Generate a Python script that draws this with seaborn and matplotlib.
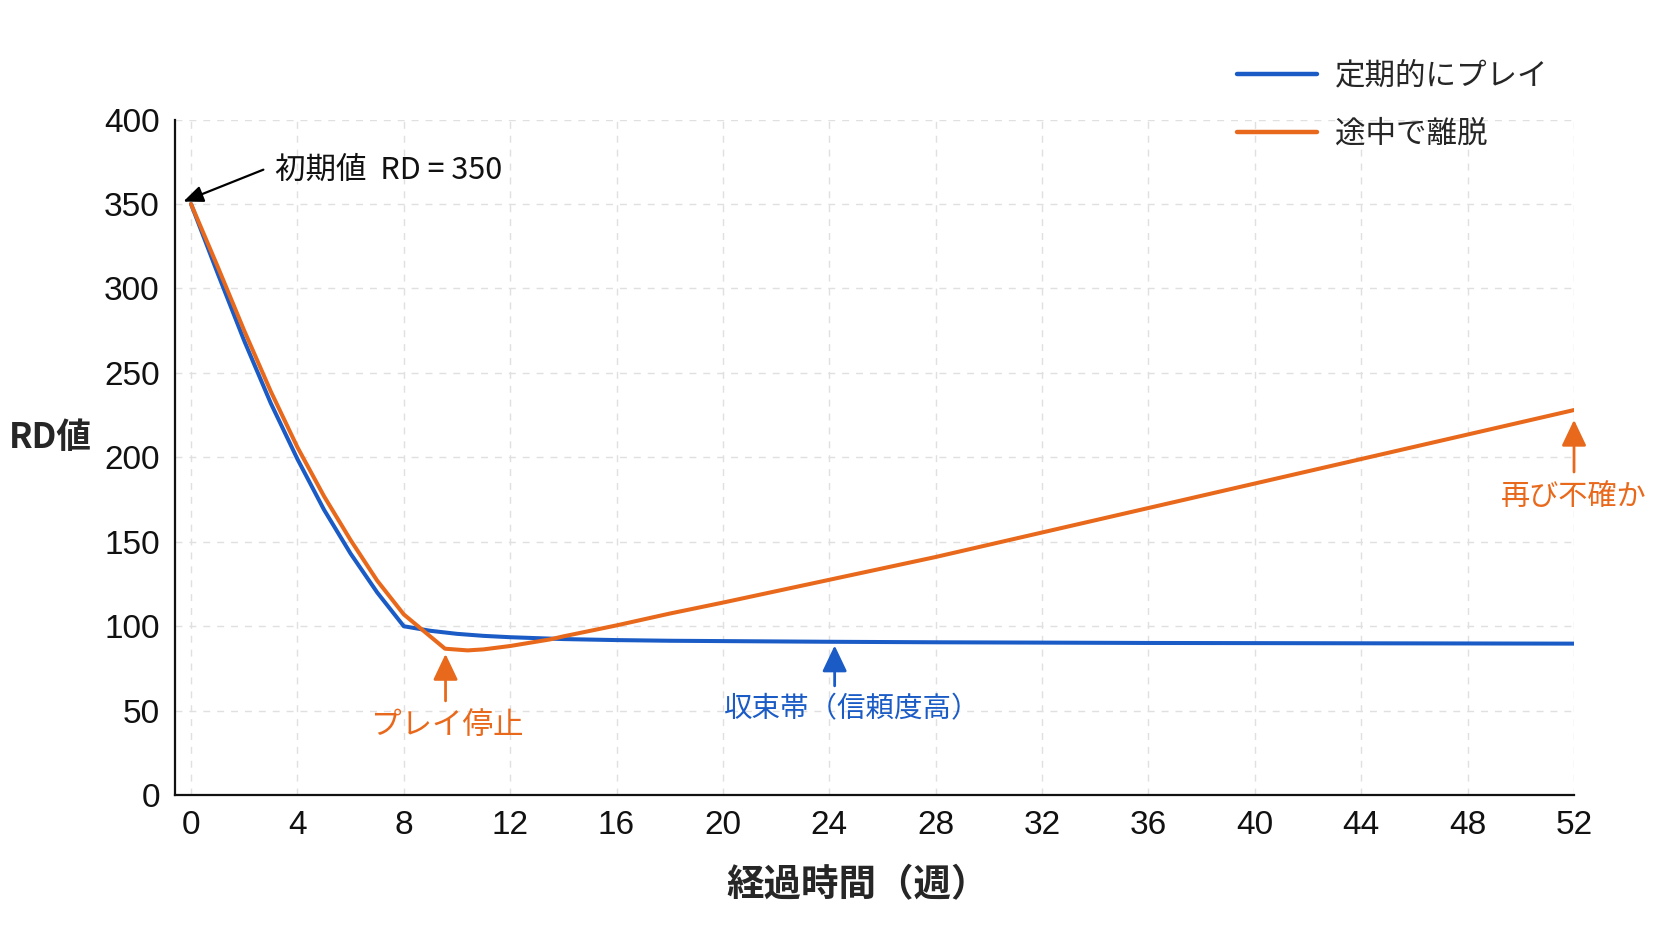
import pandas as pd
import seaborn as sns
import matplotlib.pyplot as plt

# 定期的にプレイ
regular_weeks = [0, 1, 2, 3, 4, 5, 6, 7, 8, 9, 10, 11, 12, 14, 16, 18, 20, 24, 28, 32, 36, 40, 44, 48, 52]
regular_rd = [350, 309, 269, 232, 199, 169, 143, 120, 100, 97.3, 95.5, 94.3, 93.5, 92.4, 91.8, 91.4,
              91.2, 90.8, 90.5, 90.3, 90.1, 90, 89.9, 89.8, 89.7]

# 途中で離脱
dropout_weeks = [0, 1, 2, 3, 4, 5, 6, 7, 8, 9.55, 10.4, 11, 12, 13.5, 14, 16, 18, 20, 24, 28, 32, 36, 40, 44, 48, 52]
dropout_rd = [350, 313, 275, 239, 206, 177, 151, 127, 107, 86.7, 85.7, 86.3, 88.3, 92.2, 94, 100.5, 107.5,
              114, 127.5, 141, 155.5, 170, 184.5, 199, 213.5, 228]

labels = ['定期的にプレイ', '途中で離脱']
colors = ['#1a5bc6', '#e8691c']
x_ticks = list(range(0, 53, 4))
y_ticks = list(range(0, 401, 50))

df = pd.concat([
    pd.DataFrame({'week': regular_weeks, 'rd': regular_rd, 'series': labels[0]}),
    pd.DataFrame({'week': dropout_weeks, 'rd': dropout_rd, 'series': labels[1]}),
])

sns.set_style('white')
plt.rcParams['font.family'] = ['Noto Sans CJK JP', 'DejaVu Sans']

fig = plt.figure(figsize=(16.72, 9.41), dpi=100)
ax = fig.add_axes([0.1047, 0.155, 0.8367, 0.718])

sns.lineplot(data=df, x='week', y='rd', hue='series', palette=colors,
             linewidth=2.9, ax=ax, estimator=None, sort=False)

ax.set_xlim(-0.6, 52)
ax.set_ylim(0, 400)
ax.set_xticks(x_ticks)
ax.set_yticks(y_ticks)
ax.tick_params(axis='both', labelsize=24, length=8, width=1.3, direction='out', colors='black', pad=3)
for lab in ax.get_xticklabels() + ax.get_yticklabels():
    lab.set_family(['Liberation Sans', 'DejaVu Sans'])
    lab.set_color('#111111')

ax.grid(True, linestyle=(0, (5, 5)), color='#e0e0e0', linewidth=1)
sns.despine(ax=ax)
for s in ['left', 'bottom']:
    ax.spines[s].set_color('#111111')
    ax.spines[s].set_linewidth(1.6)

ax.set_xlabel('')
ax.set_ylabel('')
fig.text(0.513, 0.06, '経過時間（週）', fontsize=27, fontweight='bold', ha='center', va='center')
fig.text(0.03, 0.535, 'RD値', fontsize=25, fontweight='bold', ha='center', va='center')

handles, _ = ax.get_legend_handles_labels()
leg = ax.legend(handles, labels, loc='upper left', bbox_to_anchor=(0.7236, 0.965),
                bbox_transform=fig.transFigure, frameon=False, fontsize=22,
                handlelength=2.6, handletextpad=0.6, labelspacing=0.9)
for line in leg.get_lines():
    line.set_linewidth(3.2)

# 注記
big_head = '-|>,head_length=0.8,head_width=0.38'
ax.annotate('', xy=(-0.29, 351.4), xytext=(2.72, 370.3),
            arrowprops=dict(arrowstyle='-|>,head_length=0.6,head_width=0.25', color='black',
                            lw=1.6, mutation_scale=20, shrinkA=0, shrinkB=0))
ax.text(3.16, 370, '初期値  RD = 350', fontsize=22, color='#111111', va='center', ha='left')

ax.annotate('', xy=(9.57, 83.6), xytext=(9.57, 55.8),
            arrowprops=dict(arrowstyle=big_head, color=colors[1], lw=2, mutation_scale=20,
                            shrinkA=0, shrinkB=0))
ax.text(9.65, 41.4, 'プレイ停止', fontsize=22, color=colors[1], va='center', ha='center')

ax.annotate('', xy=(24.2, 88.6), xytext=(24.2, 64.7),
            arrowprops=dict(arrowstyle=big_head, color=colors[0], lw=2, mutation_scale=20,
                            shrinkA=0, shrinkB=0))
ax.text(24.85, 50.8, '収束帯（信頼度高）', fontsize=20.5, color=colors[0], va='center', ha='center')

ax.annotate('', xy=(52, 222.2), xytext=(52, 191.3),
            arrowprops=dict(arrowstyle=big_head, color=colors[1], lw=2, mutation_scale=20,
                            shrinkA=0, shrinkB=0), annotation_clip=False)
ax.text(52, 176.8, '再び不確か', fontsize=21, color=colors[1], va='center', ha='center', clip_on=False)

fig.savefig('out.png', dpi=100)
plt.close(fig)
